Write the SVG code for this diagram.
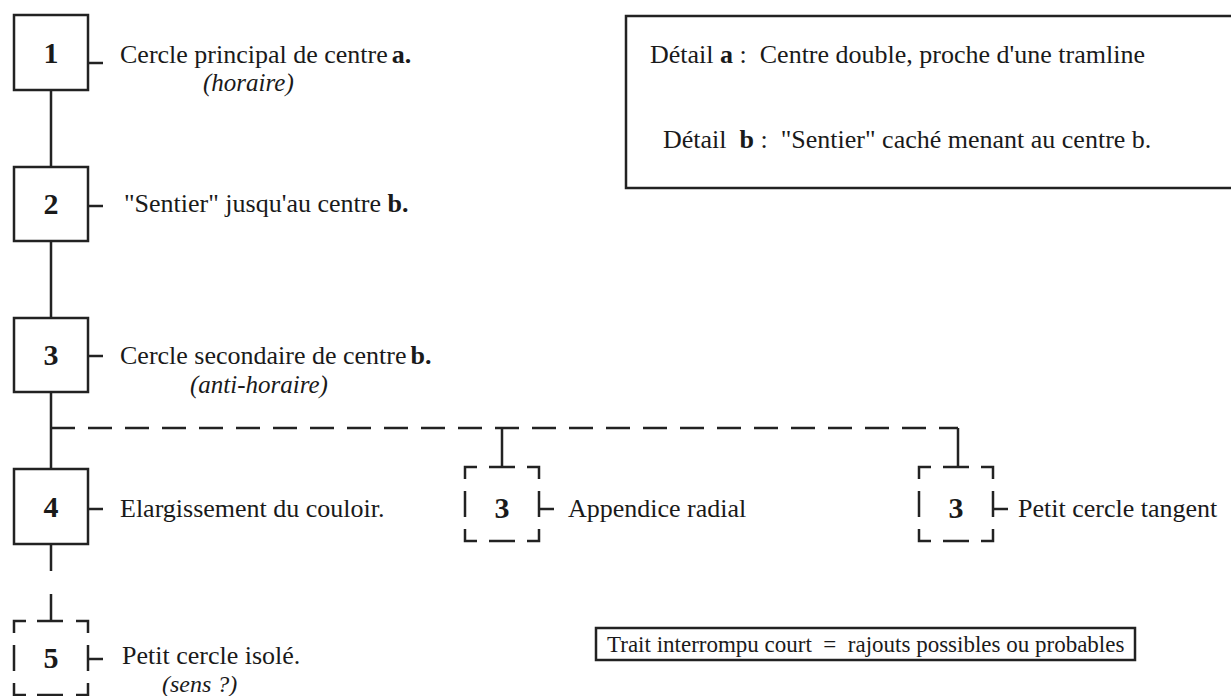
<svg xmlns="http://www.w3.org/2000/svg" width="1231" height="696" viewBox="0 0 1231 696">
<style>
.t{font-family:"Liberation Serif","Times New Roman",serif;font-size:26px;fill:#1a1a1a;white-space:pre}
.s{font-size:23px}
.n{font-family:"Liberation Serif","Times New Roman",serif;font-size:30px;font-weight:bold;fill:#1a1a1a;text-anchor:middle}
.b{font-weight:bold}
.i{font-style:italic;font-size:25px}
.box{fill:#fff;stroke:#222;stroke-width:2.5}
.ln{fill:none;stroke:#222;stroke-width:2.5}
.dash{fill:none;stroke:#222;stroke-width:2.5;stroke-dasharray:24 13}
</style>
<rect width="1231" height="696" fill="#fff"/>
<g id="connectors">
<path class="ln" d="M51,90V167M51,241V318M51,392V469M51,544V571M51,594V621"/>
<path class="dash" d="M51,428H958"/>
<path class="ln" d="M502,428V467M958,428V467"/>
</g>
<g id="node1">
<rect class="box" x="14" y="15" width="74" height="75"/>
<text class="n" x="51" y="63">1</text>
<path class="ln" d="M88,63H103"/>
<text class="t" x="120" y="63">Cercle principal de centre<tspan class="b" dx="4">a.</tspan></text>
<text class="t i" x="203" y="91">(horaire)</text>
</g>
<g id="node2">
<rect class="box" x="14" y="167" width="74" height="74"/>
<text class="n" x="51" y="214">2</text>
<path class="ln" d="M88,206H103"/>
<text class="t" x="124" y="212">"Sentier" jusqu'au centre <tspan class="b">b.</tspan></text>
</g>
<g id="node3">
<rect class="box" x="14" y="318" width="74" height="74"/>
<text class="n" x="51" y="365">3</text>
<path class="ln" d="M88,356H103"/>
<text class="t" x="120" y="364">Cercle secondaire de centre<tspan class="b" dx="4">b.</tspan></text>
<text class="t i" x="190" y="393">(anti-horaire)</text>
</g>
<g id="node4">
<rect class="box" x="14" y="469" width="74" height="75"/>
<text class="n" x="51" y="517">4</text>
<path class="ln" d="M88,509H103"/>
<text class="t" x="120" y="517">Elargissement du couloir.</text>
</g>
<g id="node5">
<path class="ln" d="M14,633V621H26M37,621H63M76,621H88V633M14,645V671M88,645V671M14,683V695H26M37,695H63M76,695H88V683"/>
<text class="n" x="51" y="668">5</text>
<path class="ln" d="M88,659H103"/>
<text class="t" x="122" y="664">Petit cercle isolé.</text>
<text class="t i" x="162" y="692" style="font-size:24px">(sens ?)</text>
</g>
<g id="node3a">
<path class="ln" d="M465,479V467H477M489,467H515M527,467H539V479M465,491V517M539,491V517M465,529V541H477M489,541H515M527,541H539V529"/>
<text class="n" x="502" y="518">3</text>
<path class="ln" d="M539,509H554"/>
<text class="t" x="568" y="517">Appendice radial</text>
</g>
<g id="node3b">
<path class="ln" d="M919,479V467H931M943,467H969M981,467H993V479M919,491V517M993,491V517M919,529V541H931M943,541H969M981,541H993V529"/>
<text class="n" x="956" y="518">3</text>
<path class="ln" d="M993,509H1008"/>
<text class="t" x="1018" y="517">Petit cercle tangent</text>
</g>
<g id="legend-details">
<rect class="box" x="626" y="16" width="620" height="172"/>
<text class="t" x="650" y="63">Détail <tspan class="b">a</tspan> :  Centre double, proche d'une tramline</text>
<text class="t" x="663" y="148">Détail  <tspan class="b">b</tspan> :  "Sentier" caché menant au centre b.</text>
</g>
<g id="legend-dash">
<rect class="box" x="596" y="628" width="539" height="32"/>
<text class="t s" x="607" y="652">Trait interrompu court  =  rajouts possibles ou probables</text>
</g>
</svg>
